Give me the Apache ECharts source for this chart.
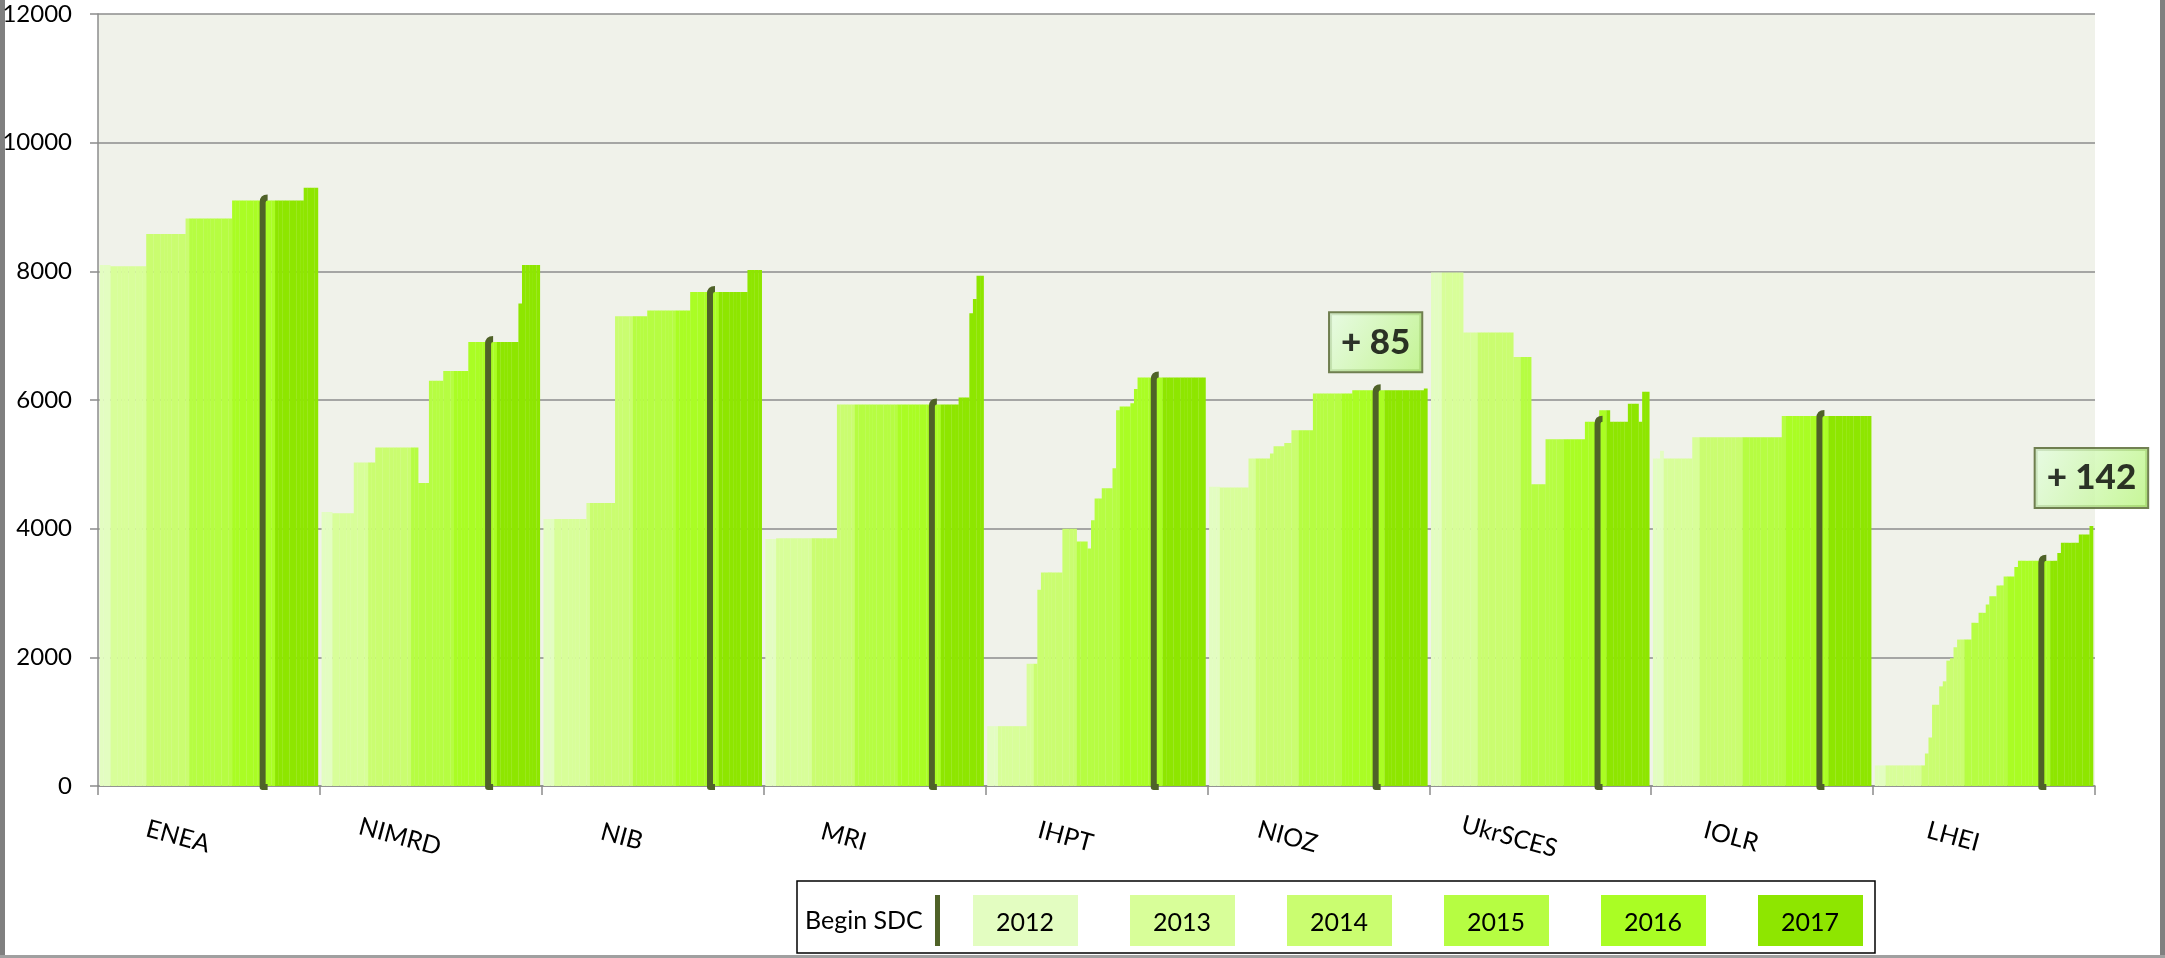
<!DOCTYPE html>
<html>
<head>
<meta charset="utf-8">
<title>SDC</title>
<script src="https://cdn.jsdelivr.net/npm/echarts@6/dist/echarts.min.js"></script>
<style>
	html, body { margin: 0; padding: 0; background: #fff; }
	#main { width: 2165px; height: 958px; }
</style>
</head>
<body>
<div id="main"></div>
<script>
var institutes = ['ENEA', 'NIMRD', 'NIB', 'MRI', 'IHPT', 'NIOZ', 'UkrSCES', 'IOLR', 'LHEI'];
var years = ['2012', '2013', '2014', '2015', '2016', '2017'];
var yearColors = ['#e3fdc1', '#d8fe99', '#cafd70', '#b6fd42', '#aafd24', '#8ee600'];
// monthly columns per year inside each group
var monthsPerYear = [3, 10, 12, 12, 12, 12];
var yMax = 12000;
var yStep = 2000;

// one value per month, 61 per institute
var enea = [8100, 8100, 8100, 8080, 8080, 8080, 8080, 8080, 8080, 8080, 8080, 8080, 8080,
	8580, 8580, 8580, 8580, 8580, 8580, 8580, 8580, 8580, 8580, 8580, 8820,
	8820, 8820, 8820, 8820, 8820, 8820, 8820, 8820, 8820, 8820, 8820, 8820,
	9100, 9100, 9100, 9100, 9100, 9100, 9100, 9100, 9100, 9100, 9100, 9100,
	9100, 9100, 9100, 9100, 9100, 9100, 9100, 9100, 9300, 9300, 9300, 9300];
var nimrd = [4260, 4260, 4260, 4240, 4240, 4240, 4240, 4240, 4240, 5030, 5030, 5030, 5030,
	5030, 5030, 5260, 5260, 5260, 5260, 5260, 5260, 5260, 5260, 5260, 5260,
	5260, 5260, 4710, 4710, 4710, 6300, 6300, 6300, 6300, 6450, 6450, 6450,
	6450, 6450, 6450, 6450, 6900, 6900, 6900, 6900, 6900, 6900, 6900, 6900,
	6900, 6900, 6900, 6900, 6900, 6900, 7500, 8100, 8100, 8100, 8100, 8100];
var nib = [4150, 4150, 4150, 4150, 4150, 4150, 4150, 4150, 4150, 4150, 4150, 4150, 4400,
	4400, 4400, 4400, 4400, 4400, 4400, 4400, 7300, 7300, 7300, 7300, 7300,
	7300, 7300, 7300, 7300, 7390, 7390, 7390, 7390, 7390, 7390, 7390, 7390,
	7390, 7390, 7390, 7390, 7680, 7680, 7680, 7680, 7680, 7680, 7680, 7680,
	7680, 7680, 7680, 7680, 7680, 7680, 7680, 7680, 8020, 8020, 8020, 8020];
var mri = [3840, 3840, 3840, 3850, 3850, 3850, 3850, 3850, 3850, 3850, 3850, 3850, 3850,
	3850, 3850, 3850, 3850, 3850, 3850, 3850, 5930, 5930, 5930, 5930, 5930,
	5930, 5930, 5930, 5930, 5930, 5930, 5930, 5930, 5930, 5930, 5930, 5930,
	5930, 5930, 5930, 5930, 5930, 5930, 5930, 5930, 5930, 5930, 5930, 5930,
	5930, 5930, 5930, 5930, 5930, 6040, 6040, 6040, 7350, 7570, 7930, 7930];
var ihpt = [930, 930, 930, 930, 930, 930, 930, 930, 930, 930, 930, 1900, 1900,
	1900, 3050, 3320, 3320, 3320, 3320, 3320, 3320, 4000, 4000, 4000, 4000,
	3800, 3800, 3800, 3690, 4130, 4470, 4470, 4630, 4630, 4630, 4940, 5840,
	5900, 5900, 5900, 5950, 6170, 6350, 6350, 6350, 6350, 6350, 6350, 6350,
	6350, 6350, 6350, 6350, 6350, 6350, 6350, 6350, 6350, 6350, 6350, 6350];
var nioz = [4650, 4650, 4650, 4640, 4640, 4640, 4640, 4640, 4640, 4640, 4640, 5090, 5090,
	5090, 5090, 5090, 5090, 5170, 5280, 5280, 5280, 5330, 5330, 5530, 5530,
	5530, 5530, 5530, 5530, 6100, 6100, 6100, 6100, 6100, 6100, 6100, 6100,
	6100, 6100, 6100, 6150, 6150, 6150, 6150, 6150, 6150, 6150, 6150, 6150,
	6150, 6150, 6150, 6150, 6150, 6150, 6150, 6150, 6150, 6150, 6150, 6180];
var ukrsces = [7980, 7980, 7980, 7980, 7980, 7980, 7980, 7980, 7980, 7050, 7050, 7050, 7050,
	7050, 7050, 7050, 7050, 7050, 7050, 7050, 7050, 7050, 7050, 6670, 6670,
	6670, 6670, 6670, 4690, 4690, 4690, 4690, 5390, 5390, 5390, 5390, 5390,
	5390, 5390, 5390, 5390, 5390, 5390, 5660, 5660, 5660, 5660, 5840, 5840,
	5840, 5660, 5660, 5660, 5660, 5660, 5940, 5940, 5940, 5660, 6130, 6130];
var iolr = [5090, 5090, 5210, 5090, 5090, 5090, 5090, 5090, 5090, 5090, 5090, 5420, 5420,
	5420, 5420, 5420, 5420, 5420, 5420, 5420, 5420, 5420, 5420, 5420, 5420,
	5420, 5420, 5420, 5420, 5420, 5420, 5420, 5420, 5420, 5420, 5420, 5750,
	5750, 5750, 5750, 5750, 5750, 5750, 5750, 5750, 5750, 5750, 5750, 5750,
	5750, 5750, 5750, 5750, 5750, 5750, 5750, 5750, 5750, 5750, 5750, 5750];
var lhei = [320, 320, 320, 320, 320, 320, 320, 320, 320, 320, 320, 320, 320,
	320, 505, 754, 1263, 1263, 1549, 1627, 1949, 1985, 2157, 2276, 2276,
	2276, 2276, 2536, 2536, 2692, 2692, 2822, 2951, 2951, 3118, 3118, 3258,
	3258, 3258, 3404, 3500, 3500, 3500, 3500, 3500, 3500, 3500, 3500, 3500,
	3500, 3500, 3620, 3780, 3780, 3780, 3780, 3780, 3910, 3910, 3910, 4040];
var monthly = [enea, nimrd, nib, mri, ihpt, nioz, ukrsces, iolr, lhei];

// month (index in the group) where SDC began
var sdcMonth = [45, 46, 46, 46, 46, 46, 46, 46, 46];
var notes = [
	{ group: 5, month: 46, text: '+ 85' },
	{ group: 8, month: 60, text: '+ 142' }
];

drawChart();

function drawChart() {
	var chart = echarts.init(document.getElementById('main'));
	var slots = 62; // 61 months + 1 empty slot between groups
	var font = 'Lato';

	function slotX(g, m) {
		return g * slots + 1 + m;
	}

	var perYear = years.map(function () { return []; });
	monthly.forEach(function (vals, g) {
		var m = 0;
		monthsPerYear.forEach(function (n, yi) {
			for (var k = 0; k < n; k++, m++) {
				perYear[yi].push([slotX(g, m), vals[m]]);
			}
		});
	});

	var sdcData = sdcMonth.map(function (m, g) {
		return [slotX(g, m), monthly[g][m]];
	});
	var noteData = notes.map(function (n) {
		return [slotX(n.group, n.month), monthly[n.group][n.month], n.text];
	});

	var series = years.map(function (y, yi) {
		return {
			name: y,
			type: 'bar',
			xAxisIndex: 1,
			yAxisIndex: 0,
			barWidth: '106%',
			barGap: '-100%',
			itemStyle: { color: yearColors[yi] },
			data: perYear[yi],
			z: 2
		};
	});

	series.push({
		name: 'Begin SDC',
		type: 'custom',
		xAxisIndex: 1,
		yAxisIndex: 0,
		z: 5,
		data: sdcData,
		renderItem: function (params, api) {
			var top = api.coord([api.value(0), api.value(1)]);
			var base = api.coord([api.value(0), 0]);
			var x = top[0], y = top[1] - 3, b = base[1] + 1;
			return {
				type: 'path',
				shape: {
					pathData: 'M' + (x + 5) + ' ' + y + ' Q' + x + ' ' + y + ' ' + x + ' ' + (y + 5) +
						' L' + x + ' ' + b + ' L' + (x + 5) + ' ' + b
				},
				style: { fill: null, stroke: '#4f6228', lineWidth: 6, lineJoin: 'round' }
			};
		}
	});

	series.push({
		name: 'notes',
		type: 'scatter',
		xAxisIndex: 1,
		yAxisIndex: 0,
		symbolSize: 0,
		z: 6,
		data: noteData,
		itemStyle: { color: '#000' },
		label: {
			show: true,
			position: 'top',
			distance: 19,
			formatter: function (p) { return p.value[2]; },
			fontFamily: font,
			fontSize: 35,
			fontWeight: 900,
			color: '#000',
			textBorderWidth: 0,
			lineHeight: 40,
			backgroundColor: new echarts.graphic.LinearGradient(0, 0, 1, 1, [
				{ offset: 0, color: '#e6fde3' },
				{ offset: 1, color: '#b8f47c' }
			]),
			borderColor: '#4f6228',
			borderWidth: 2,
			padding: [9, 11, 9, 11]
		},
		emphasis: { disabled: true }
	});

	// legend drawn as a framed strip under the plot
	var legend = [{
		type: 'rect',
		shape: { x: 797, y: 881, width: 1078, height: 72 },
		style: { fill: '#fff', stroke: '#000', lineWidth: 1.5 }
	}, {
		type: 'text',
		style: { x: 805, y: 921, text: 'Begin SDC', font: '25px Lato', fill: '#000', verticalAlign: 'middle' }
	}, {
		type: 'rect',
		shape: { x: 935, y: 895, width: 5, height: 51 },
		style: { fill: '#4f6228' }
	}];
	years.forEach(function (y, i) {
		var x0 = 973 + i * 157;
		legend.push({
			type: 'rect',
			shape: { x: x0, y: 895, width: 105, height: 51 },
			style: { fill: yearColors[i] }
		});
		legend.push({
			type: 'text',
			style: { x: x0 + 52, y: 923, text: y, font: '25px Lato', fill: '#000', align: 'center', verticalAlign: 'middle' }
		});
	});
	// frame edges
	legend.push({ type: 'rect', shape: { x: 0, y: 0, width: 5, height: 958 }, style: { fill: '#808080' } });
	legend.push({ type: 'rect', shape: { x: 2160, y: 0, width: 5, height: 958 }, style: { fill: '#808080' } });
	legend.push({ type: 'rect', shape: { x: 0, y: 955, width: 2165, height: 3 }, style: { fill: '#a0a0a0' } });

	var option = {
		backgroundColor: '#fff',
		animation: false,
		grid: {
			left: 98, right: 70, top: 14, bottom: 172,
			show: true,
			backgroundColor: '#f0f2ea',
			borderWidth: 0,
			outerBoundsMode: 'none'
		},
		xAxis: [{
			type: 'category',
			data: institutes,
			position: 'bottom',
			boundaryGap: true,
			axisLine: { lineStyle: { color: '#8c8c8c', width: 1.5 } },
			axisTick: { show: true, length: 9, lineStyle: { color: '#8c8c8c', width: 1.5 } },
			axisLabel: {
				rotate: -15,
				interval: 0,
				margin: 59,
				align: 'center',
				verticalAlign: 'middle',
				padding: [0, 64, 0, 0],
				fontFamily: font,
				fontSize: 25,
				color: '#000'
			},
			splitLine: { show: false }
		}, {
			type: 'value',
			show: false,
			min: 0,
			max: slots * institutes.length,
			splitLine: { show: false }
		}],
		yAxis: {
			type: 'value',
			min: 0,
			max: yMax,
			interval: yStep,
			axisLine: { show: true, lineStyle: { color: '#8c8c8c', width: 1.5 } },
			axisTick: { show: true, length: 8, lineStyle: { color: '#8c8c8c', width: 1.5 } },
			axisLabel: {
				margin: 26,
				fontFamily: font,
				fontSize: 24,
				color: '#000',
				formatter: function (v) { return String(v); }
			},
			splitLine: { lineStyle: { color: '#8c8c8c', width: 1.5 } }
		},
		graphic: legend,
		series: series
	};
	chart.setOption(option);
}
</script>
</body>
</html>
